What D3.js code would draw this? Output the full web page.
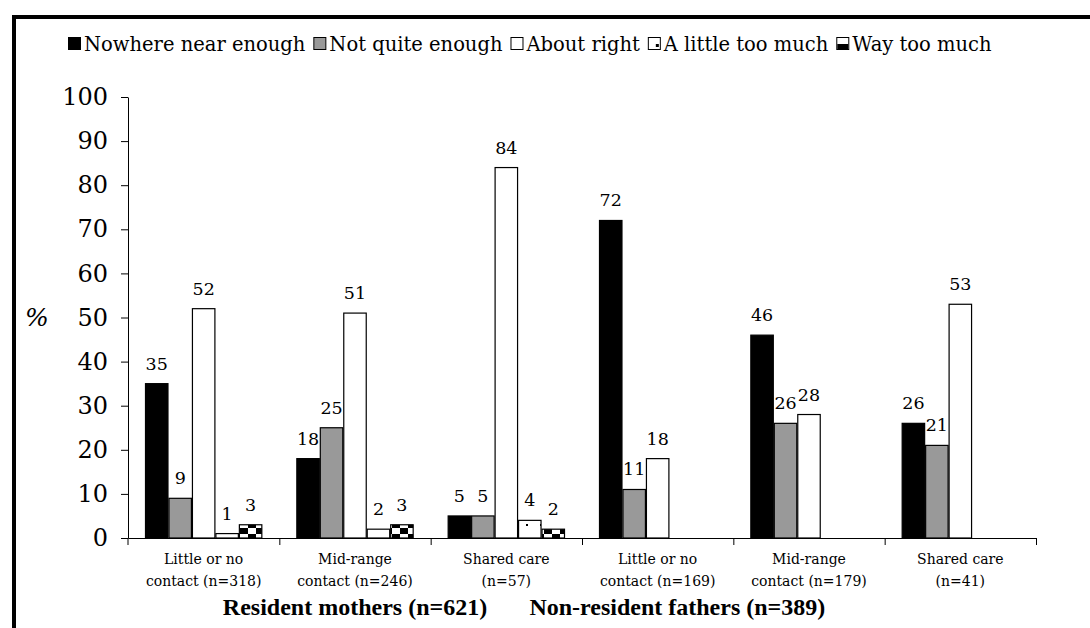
<!DOCTYPE html>
<html>
<head>
<meta charset="utf-8">
<script src="https://cdn.jsdelivr.net/npm/d3@7"></script>
<style>
  html, body { margin: 0; padding: 0; background: #fff; }
  svg { display: block; }
  text { font-family: "DejaVu Serif", "Liberation Serif", serif; fill: #000; }
  text.group { font-family: "Liberation Serif", serif; font-weight: bold; }
</style>
</head>
<body>
<svg id="chart" width="1090" height="628"></svg>
<script>
// ---- data ----
const categories = [
  ["Little or no", "contact (n=318)"],
  ["Mid-range", "contact (n=246)"],
  ["Shared care", "(n=57)"],
  ["Little or no", "contact (n=169)"],
  ["Mid-range", "contact (n=179)"],
  ["Shared care", "(n=41)"]
];
const groups = ["Resident mothers (n=621)", "Non-resident fathers (n=389)"];
const series = ["Nowhere near enough", "Not quite enough", "About right", "A little too much", "Way too much"];
const nowhereNearEnough = [35, 18, 5, 72, 46, 26];
const notQuiteEnough    = [9, 25, 5, 11, 26, 21];
const aboutRight        = [52, 51, 84, 18, 28, 53];
const aLittleTooMuch    = [1, 2, 4, null, null, null];
const wayTooMuch        = [3, 3, 2, null, null, null];
const yTicks = [0, 10, 20, 30, 40, 50, 60, 70, 80, 90, 100];
const yLabel = "%";

const seriesValues = [nowhereNearEnough, notQuiteEnough, aboutRight, aLittleTooMuch, wayTooMuch];

// ---- layout ----
const W = 1090, H = 628;
const plotL = 128, plotR = 1036, plotT = 97, plotB = 538;

const svg = d3.select("#chart");
const defs = svg.append("defs");

// patterns
const pDot = defs.append("pattern").attr("id", "pDot")
  .attr("patternUnits", "userSpaceOnUse").attr("width", 14).attr("height", 14);
pDot.append("rect").attr("width", 14).attr("height", 14).attr("fill", "#fff");
pDot.append("rect").attr("x", 8).attr("y", 6).attr("width", 2).attr("height", 2).attr("fill", "#000");

const pChk = defs.append("pattern").attr("id", "pChk")
  .attr("patternUnits", "userSpaceOnUse").attr("width", 16).attr("height", 12);
pChk.append("rect").attr("width", 16).attr("height", 12).attr("fill", "#fff");
pChk.append("rect").attr("x", 0).attr("y", 0).attr("width", 8).attr("height", 6).attr("fill", "#000");
pChk.append("rect").attr("x", 8).attr("y", 6).attr("width", 8).attr("height", 6).attr("fill", "#000");

const fills = ["#000000", "#999999", "#ffffff", "url(#pDot)", "url(#pChk)"];

// frame (thick top and left lines)
svg.append("rect").attr("x", 12).attr("y", 15).attr("width", W - 12).attr("height", 4).attr("fill", "#000");
svg.append("rect").attr("x", 12).attr("y", 15).attr("width", 4).attr("height", H - 15).attr("fill", "#000");

// scales
const y = d3.scaleLinear().domain([0, 100]).range([plotB, plotT]);
const x0 = d3.scaleBand().domain(d3.range(categories.length)).range([plotL, plotR]).padding(0);
const x1 = d3.scaleBand().domain(d3.range(series.length)).range([17, x0.bandwidth() - 17]).padding(0);
const xEdge = d3.scaleLinear().domain([0, categories.length]).range([plotL, plotR]);

// y axis
const yAxis = svg.append("g").attr("transform", `translate(${plotL},0)`)
  .call(d3.axisLeft(y).tickValues(yTicks).tickSize(7).tickSizeOuter(0).tickPadding(13));
yAxis.select(".domain").attr("stroke", "#000");
yAxis.selectAll(".tick line").attr("stroke", "#000");
yAxis.selectAll(".tick text").attr("font-size", 24).attr("fill", "#000");

// x axis (boundary ticks)
const xAxis = svg.append("g").attr("transform", `translate(0,${plotB})`)
  .call(d3.axisBottom(xEdge).tickValues(d3.range(1, categories.length + 1)).tickSize(7).tickSizeOuter(0).tickFormat(""));
xAxis.select(".domain").attr("stroke", "#000");
xAxis.selectAll(".tick line").attr("stroke", "#000");
svg.append("line").attr("x1", plotL).attr("x2", plotL).attr("y1", plotB).attr("y2", plotB + 7).attr("stroke", "#000");

// y label
svg.append("text").attr("x", 37).attr("y", y(50) + 8).attr("text-anchor", "middle")
  .attr("font-size", 25).attr("font-style", "italic").text(yLabel);

// bars
const barData = [];
categories.forEach((c, ci) => {
  seriesValues.forEach((vals, si) => {
    if (vals[ci] != null) barData.push({ ci, si, v: vals[ci] });
  });
});

svg.append("g").selectAll("rect").data(barData).join("rect")
  .attr("x", d => x0(d.ci) + x1(d.si) + 0.5)
  .attr("y", d => y(d.v))
  .attr("width", x1.bandwidth() - 1)
  .attr("height", d => y(0) - y(d.v))
  .attr("fill", d => fills[d.si])
  .attr("stroke", "#000").attr("stroke-width", 1.2);

svg.append("g").selectAll("text").data(barData).join("text")
  .attr("x", d => x0(d.ci) + x1(d.si) + x1.bandwidth() / 2)
  .attr("y", d => y(d.v) - 14)
  .attr("text-anchor", "middle")
  .attr("font-size", 17.5)
  .text(d => d.v);

// category labels
const catG = svg.append("g").selectAll("text").data(categories).join("text")
  .attr("text-anchor", "middle").attr("font-size", 14);
catG.append("tspan").attr("x", (d, i) => x0(i) + x0.bandwidth() / 2).attr("y", 564).text(d => d[0]);
catG.append("tspan").attr("x", (d, i) => x0(i) + x0.bandwidth() / 2).attr("y", 586).text(d => d[1]);

// group labels
const groupPos = [x0(1) + x0.bandwidth() / 2, x0(3) + x0.bandwidth() * 0.63];
svg.append("g").selectAll("text").data(groups).join("text")
  .attr("class", "group")
  .attr("x", (d, i) => groupPos[i]).attr("y", 615)
  .attr("text-anchor", "middle").attr("font-size", 24)
  .text(d => d);

// legend
const legendG = svg.append("g").attr("transform", "translate(68,0)");
let lx = 0;
series.forEach((s, i) => {
  const g = legendG.append("g").attr("transform", `translate(${lx},0)`);
  g.append("rect").attr("x", 0.5).attr("y", 37.5).attr("width", 12).attr("height", 12)
    .attr("fill", i === 1 ? fills[1] : (i === 0 ? "#000" : "#fff")).attr("stroke", "#000").attr("stroke-width", 1);
  if (i === 3) g.append("rect").attr("x", 8).attr("y", 44).attr("width", 3).attr("height", 3).attr("fill", "#000");
  if (i === 4) g.append("rect").attr("x", 1).attr("y", 44).attr("width", 11).attr("height", 5).attr("fill", "#000");
  const t = g.append("text").attr("x", 16).attr("y", 51).attr("font-size", 19.5).text(s);
  lx += 16 + t.node().getComputedTextLength() + 8;
});
</script>
</body>
</html>
